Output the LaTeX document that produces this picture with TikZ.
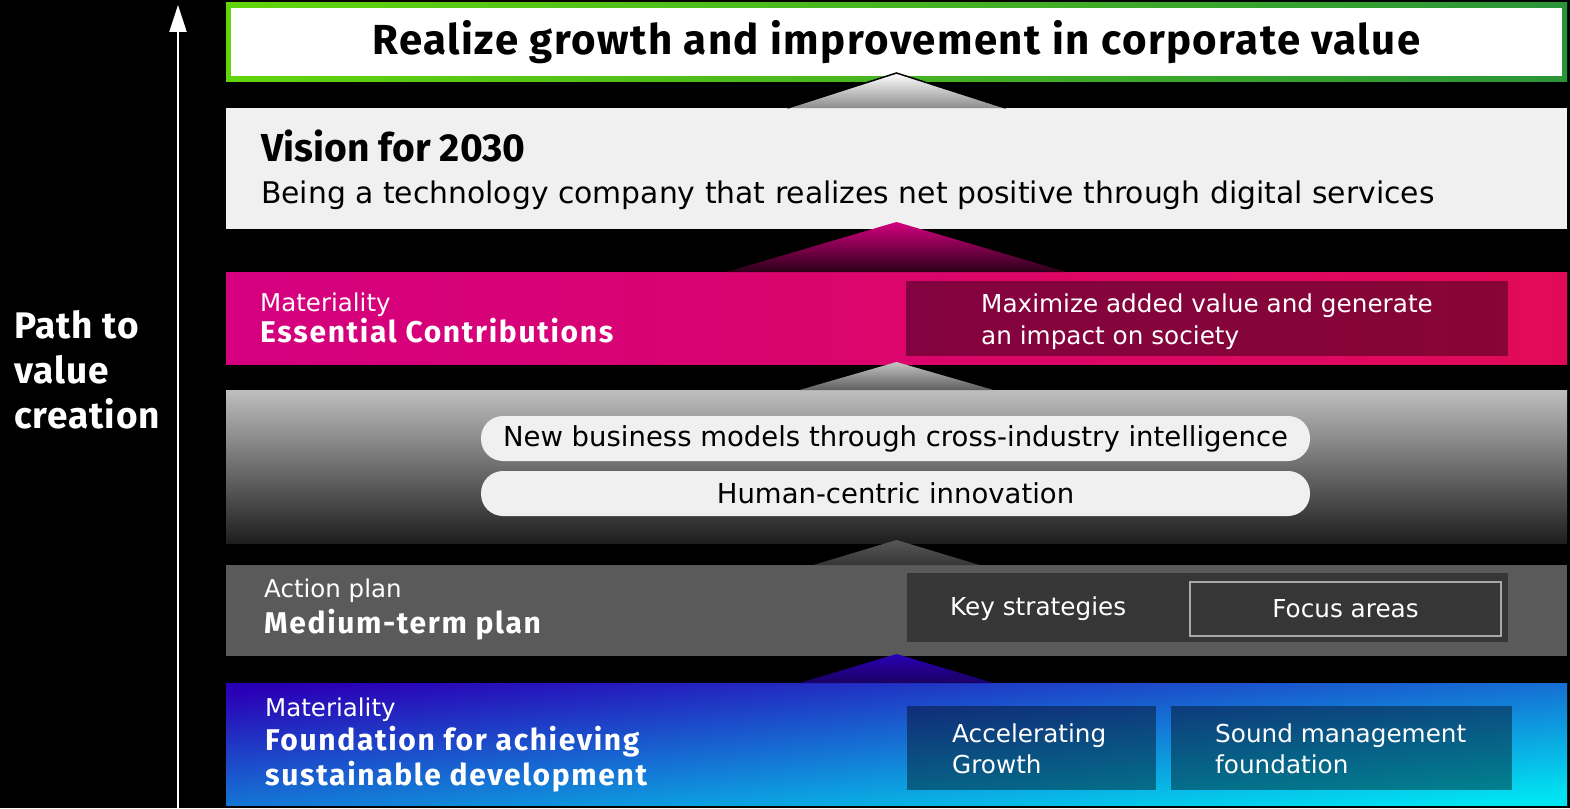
\documentclass[tikz,border=0pt]{standalone}
\usepackage{fontspec}
\setmainfont{DejaVu Sans}
\newfontfamily\headfont{Fira Sans}
\usepackage{xcolor}
\usepackage{tikz}
\usetikzlibrary{arrows.meta, positioning, calc}
\definecolor{greenL}{HTML}{62D40C}
\definecolor{greenR}{HTML}{2A9538}
\definecolor{paleband}{HTML}{F0F0F0}
\definecolor{magL}{HTML}{D4007F}
\definecolor{magR}{HTML}{E20A58}
\definecolor{magdark}{HTML}{2A0018}
\definecolor{greytop}{HTML}{BEBEBE}
\definecolor{greybot}{HTML}{1E1E1E}
\definecolor{midgrey}{HTML}{5A5A5A}
\definecolor{focusline}{HTML}{A8A8A8}
\definecolor{indigo}{HTML}{2A00B6}
\definecolor{midblue}{HTML}{1868D2}
\definecolor{cyanish}{HTML}{00E4F2}
\definecolor{indigodark}{HTML}{1A0062}
\tikzset{
	layerbox/.style={minimum width=1341pt, minimum height=#1, inner sep=0pt, outer sep=0pt, anchor=north west},
	shadebox/.style={fill=black, fill opacity=0.4, inner sep=0pt, outer sep=0pt, anchor=north west},
	pillbox/.style={fill=paleband, rounded corners=22pt, minimum width=829pt, minimum height=45pt, inner sep=0pt, outer sep=0pt, anchor=north west, font=\fontsize{27.5}{32}\selectfont},
	smalltxt/.style={anchor=base west, inner sep=0pt, text=white, font=\fontsize{24.5}{28}\selectfont},
	boldtxt/.style={anchor=base west, inner sep=0pt, text=white, font=\headfont\bfseries\addfontfeature{LetterSpace=5.5}\fontsize{30}{35}\selectfont},
	boxtxt/.style={anchor=base west, inner sep=0pt, text=white, font=\fontsize{24.7}{29}\selectfont},
	pathtxt/.style={anchor=base west, inner sep=0pt, text=white, font=\headfont\bfseries\addfontfeature{LetterSpace=2.5}\fontsize{37}{42}\selectfont},
}

\begin{document}
\begin{tikzpicture}[x=1pt, y=-1pt]
	\useasboundingbox (0,0) rectangle (1570,808);
	\fill[black] (0,0) rectangle (1570,808);

	% left arrow
	\coordinate (pathfoot) at (178,808);
	\coordinate (pathtip) at (178,5);
	\draw[white, line width=2.2pt, -{Triangle[length=27pt, width=17pt]}] (pathfoot) -- (pathtip);
	\node[pathtxt] (pathA) at (14,338) {Path to};
	\node[pathtxt] (pathB) at (14,383) {value};
	\node[pathtxt] (pathC) at (14,428) {creation};

	% layers
	\node[layerbox=78pt, left color=greenL, right color=greenR] (goal) at (226,3) {};
	\node[fill=white, minimum width=1331pt, minimum height=68pt, inner sep=0pt, font=\headfont\bfseries\addfontfeature{LetterSpace=3.5}\fontsize{42}{48}\selectfont] (goaltxt) at (goal.center) {Realize growth and improvement in corporate value};

	\node[layerbox=121pt, fill=paleband] (vision) at (226,108) {};
	\node[anchor=base west, inner sep=0pt, font=\headfont\bfseries\fontsize{39}{44}\selectfont] (visiontitle) at (261,161) {Vision for 2030};
	\node[anchor=base west, inner sep=0pt, font=\fontsize{29.8}{34}\selectfont] (visiontxt) at (261,203) {Being a technology company that realizes net positive through digital services};

	\node[layerbox=92pt, left color=magL, right color=magR] (matl) at (226,272) {};
	\node[smalltxt] (matllabel) at (260,311) {Materiality};
	\node[boldtxt] (matltitle) at (260,342) {Essential Contributions};
	\node[shadebox, minimum width=602pt, minimum height=75pt] (impact) at (906,281) {};
	\node[boxtxt] (impactA) at (981,312) {Maximize added value and generate};
	\node[boxtxt] (impactB) at (981,344) {an impact on society};

	\node[layerbox=153pt, top color=greytop, bottom color=greybot] (grayband) at (226,390) {};
	\node[pillbox] (pillA) at (481,416) {New business models through cross-industry intelligence};
	\node[pillbox] (pillB) at (481,471) {Human-centric innovation};

	\node[layerbox=91pt, fill=midgrey] (medium) at (226,565) {};
	\node[smalltxt] (medlabel) at (264,597) {Action plan};
	\node[boldtxt] (medtitle) at (264,633) {Medium-term plan};
	\node[shadebox, minimum width=601pt, minimum height=69pt] (plans) at (907,573) {};
	\node[boxtxt] (keystrat) at (950,615) {Key strategies};
	\node[draw=focusline, line width=2pt, minimum width=311pt, minimum height=54pt, anchor=north west, inner sep=0pt, text=white, font=\fontsize{24.7}{29}\selectfont] (focus) at (1189,581) {Focus areas};

	\node[layerbox=122pt, top color=indigo, middle color=midblue, bottom color=cyanish, shading angle=5] (found) at (226,683) {};
	\node[smalltxt] (foundlabel) at (265,716) {Materiality};
	\node[boldtxt] (foundA) at (265,750) {Foundation for achieving};
	\node[boldtxt] (foundB) at (265,785) {sustainable development};
	\node[shadebox, minimum width=249pt, minimum height=84pt] (accel) at (907,706) {};
	\node[shadebox, minimum width=341pt, minimum height=84pt] (sound) at (1171,706) {};
	\node[boxtxt] (accelA) at (952,742) {Accelerating};
	\node[boxtxt] (accelB) at (952,773) {Growth};
	\node[boxtxt] (soundA) at (1215,742) {Sound management};
	\node[boxtxt] (soundB) at (1215,773) {foundation};

	% lifts between layers
	\shade[top color=white, bottom color=black!45] ($(vision.north)+(-109,0)$) -- ($(goal.south)+(0,-8)$) -- ($(vision.north)+(109,0)$) -- cycle;
	\draw[black, line width=1.5pt] ($(vision.north)+(-109,0)$) -- ($(goal.south)+(0,-8)$) -- ($(vision.north)+(109,0)$);
	\shade[top color=magL, bottom color=magdark] ($(matl.north)+(-170,0)$) -- ($(vision.south)+(0,-7)$) -- ($(matl.north)+(170,0)$) -- cycle;
	\shade[top color=black!23, bottom color=black!63] ($(grayband.north)+(-97,0)$) -- ($(matl.south)+(0,-2)$) -- ($(grayband.north)+(97,0)$) -- cycle;
	\shade[top color=black!66, bottom color=black!79] ($(medium.north)+(-83,0)$) -- ($(grayband.south)+(0,-3)$) -- ($(medium.north)+(83,0)$) -- cycle;
	\shade[top color=indigo, bottom color=indigodark] ($(found.north)+(-97,0)$) -- ($(medium.south)+(0,-2)$) -- ($(found.north)+(97,0)$) -- cycle;
\end{tikzpicture}
\end{document}
